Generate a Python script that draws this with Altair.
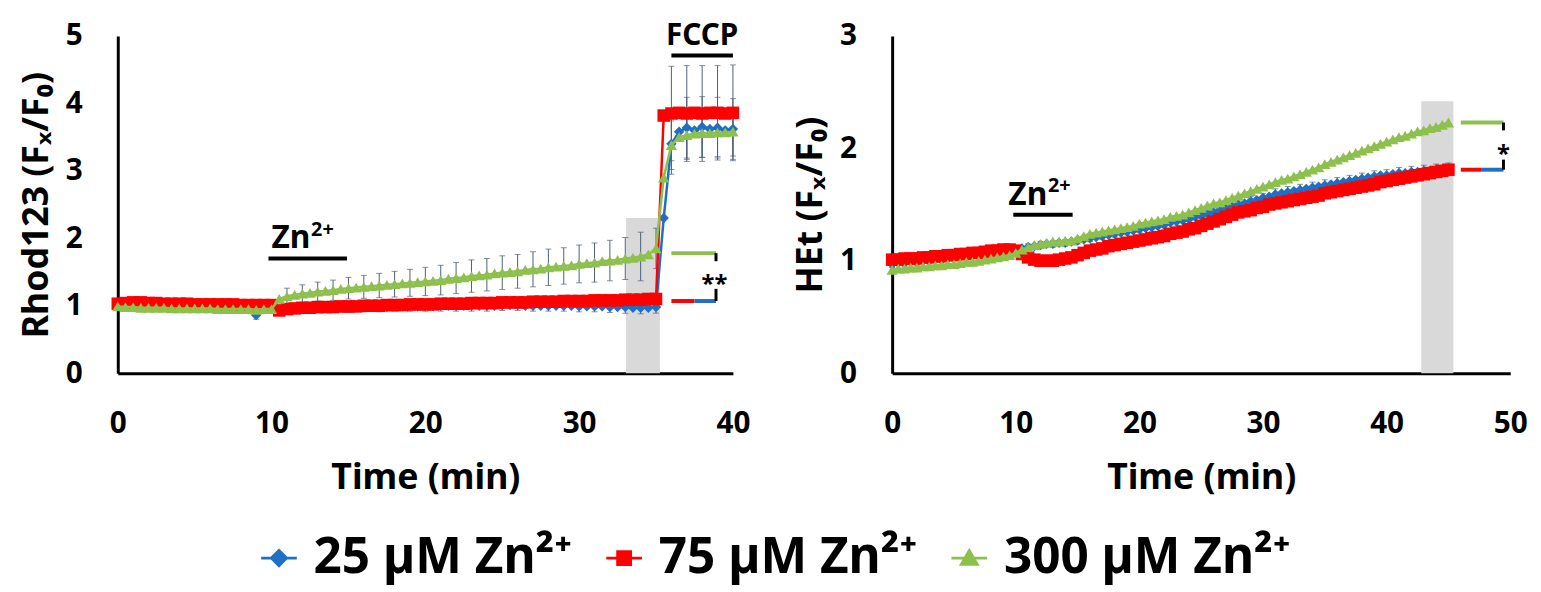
import altair as alt
import pandas as pd

SERIES = ["25 µM Zn²⁺", "75 µM Zn²⁺", "300 µM Zn²⁺"]
COLORS = ["#1f6fc4", "#ff0000", "#8dc04c"]
SHAPES = ["diamond", "square", "triangle-up"]
# legend symbols: marker with a short line through it
LEGEND_SHAPES = ["M-1,0H1M0,-0.42L0.42,0L0,0.42L-0.42,0Z",
                 "M-1,0H1M-0.36,-0.36H0.36V0.36H-0.36Z",
                 "M-1,0H1M0,-0.42L0.44,0.34L-0.44,0.34Z"]
SIZES = [110, 160, 130]
ERR_COLOR = "#4d5f7d"
FONT = "Noto Sans"

# ---------------- Left panel: Rhod123 ----------------
L_TIME = [i * 0.5 for i in range(81)]          # 0 ... 40 min
L_BLUE = [1.02, 1.04, 1.05, 1.03, 1.02, 1.01, 1.00, 1.00, 0.99, 0.99,
          0.98, 0.98, 0.99, 0.98, 0.97, 0.97, 0.96, 0.95, 0.86, 0.95, 0.97,
          0.94, 0.95, 0.95, 0.96, 0.96, 0.96, 0.97, 0.97, 0.97, 0.97,
          0.98, 0.98, 0.98, 0.98, 0.98, 0.99, 0.99, 0.99, 0.99, 0.99,
          0.99, 1.00, 1.00, 1.00, 1.00, 1.00, 1.00, 1.00, 1.00, 1.01,
          1.01, 1.01, 1.00, 1.00, 1.00, 1.00, 1.00, 1.00, 1.00, 0.99,
          0.99, 0.99, 0.99, 0.98, 0.98, 0.98, 0.97, 0.97, 0.97, 0.98,
          2.30, 3.40, 3.58, 3.64, 3.60, 3.65, 3.62, 3.64, 3.60, 3.62]
L_RED = [1.03, 1.04, 1.05, 1.05, 1.04, 1.04, 1.03, 1.03, 1.03, 1.03,
         1.02, 1.02, 1.02, 1.02, 1.02, 1.02, 1.01, 1.01, 1.01, 1.01, 1.01,
         0.93, 0.95, 0.96, 0.97, 0.97, 0.98, 0.98, 0.98, 0.99, 0.99,
         0.99, 1.00, 1.00, 1.00, 1.01, 1.01, 1.01, 1.02, 1.02, 1.02,
         1.02, 1.03, 1.03, 1.03, 1.03, 1.04, 1.04, 1.04, 1.04, 1.05,
         1.05, 1.05, 1.05, 1.06, 1.06, 1.06, 1.06, 1.07, 1.07, 1.07,
         1.07, 1.08, 1.08, 1.08, 1.08, 1.09, 1.09, 1.09, 1.10, 1.10,
         3.82, 3.85, 3.86, 3.85, 3.86, 3.85, 3.86, 3.86, 3.85, 3.86]
L_GREEN = [0.99, 0.98, 0.98, 0.97, 0.97, 0.97, 0.97, 0.96, 0.96, 0.96,
           0.96, 0.96, 0.96, 0.95, 0.95, 0.95, 0.95, 0.95, 0.94, 0.95, 0.95,
           1.10, 1.14, 1.16, 1.18, 1.19, 1.21, 1.22, 1.23, 1.25, 1.26,
           1.27, 1.28, 1.29, 1.30, 1.31, 1.32, 1.33, 1.34, 1.35, 1.36,
           1.37, 1.38, 1.40, 1.41, 1.42, 1.44, 1.45, 1.46, 1.48, 1.49,
           1.50, 1.51, 1.53, 1.54, 1.55, 1.57, 1.58, 1.59, 1.60, 1.62,
           1.63, 1.64, 1.66, 1.67, 1.68, 1.70, 1.71, 1.73, 1.76, 1.85,
           2.90, 3.38, 3.50, 3.53, 3.55, 3.56, 3.56, 3.57, 3.57, 3.58]
L_ERR_TIME = list(range(41))                    # error bars every minute
L_ERR_BLUE = [0.04, 0.04, 0.05, 0.05, 0.05, 0.05, 0.05, 0.05, 0.05, 0.06, 0.05,
              0.06, 0.06, 0.06, 0.07, 0.07, 0.07, 0.07, 0.07, 0.07, 0.07,
              0.08, 0.08, 0.08, 0.08, 0.08, 0.08, 0.08, 0.08, 0.08, 0.08,
              0.08, 0.08, 0.09, 0.09, 0.09,
              0.45, 0.45, 0.45, 0.45, 0.45]
L_ERR_RED = [0.03, 0.03, 0.03, 0.03, 0.03, 0.03, 0.03, 0.03, 0.03, 0.03, 0.03,
             0.04, 0.04, 0.04, 0.04, 0.04, 0.04, 0.04, 0.04, 0.04, 0.04,
             0.04, 0.04, 0.04, 0.04, 0.04, 0.04, 0.04, 0.04, 0.04, 0.04,
             0.04, 0.04, 0.04, 0.04, 0.04,
             0.70, 0.71, 0.71, 0.70, 0.71]
L_ERR_GREEN = [0.04, 0.04, 0.04, 0.05, 0.05, 0.05, 0.05, 0.05, 0.05, 0.05, 0.05,
               0.12, 0.13, 0.14, 0.15, 0.16, 0.17, 0.18, 0.19, 0.20, 0.21,
               0.22, 0.23, 0.24, 0.24, 0.25, 0.25, 0.26, 0.27, 0.27, 0.28,
               0.29, 0.30, 0.31, 0.36, 0.30,
               0.36, 0.36, 0.36, 0.36, 0.36]

# ---------------- Right panel: HEt ----------------
R_TIME = [i * 0.5 for i in range(91)]          # 0 ... 45 min
R_BLUE = [0.97, 0.98, 0.98, 0.99, 0.99, 1.00, 1.00, 1.01, 1.01, 1.02, 1.03,
          1.03, 1.04, 1.05, 1.05, 1.06, 1.07, 1.08, 1.09, 1.09, 1.10,
          1.11, 1.12, 1.13, 1.14, 1.15, 1.15, 1.16, 1.16, 1.17, 1.18,
          1.19, 1.20, 1.21, 1.22, 1.23, 1.24, 1.25, 1.26, 1.27, 1.28,
          1.29, 1.30, 1.31, 1.32, 1.34, 1.35, 1.36, 1.37, 1.39, 1.40,
          1.42, 1.43, 1.45, 1.46, 1.48, 1.50, 1.51, 1.53, 1.54, 1.56,
          1.57, 1.59, 1.60, 1.61, 1.62, 1.63, 1.64, 1.65, 1.66, 1.67,
          1.68, 1.69, 1.70, 1.71, 1.72, 1.73, 1.74, 1.75, 1.76, 1.76,
          1.77, 1.78, 1.78, 1.79, 1.79, 1.80, 1.80, 1.81, 1.81, 1.82]
R_RED = [1.01, 1.01, 1.02, 1.02, 1.02, 1.03, 1.03, 1.04, 1.04, 1.05, 1.05,
         1.06, 1.06, 1.07, 1.07, 1.08, 1.09, 1.09, 1.10, 1.10, 1.09,
         1.06, 1.03, 1.01, 1.00, 1.00, 1.00, 1.01, 1.02, 1.03, 1.05,
         1.07, 1.09, 1.10, 1.11, 1.13, 1.14, 1.15, 1.16, 1.17, 1.18,
         1.19, 1.20, 1.21, 1.22, 1.24, 1.25, 1.26, 1.28, 1.29, 1.31,
         1.33, 1.35, 1.37, 1.39, 1.41, 1.43, 1.44, 1.45, 1.47, 1.48,
         1.50, 1.51, 1.52, 1.53, 1.54, 1.55, 1.56, 1.57, 1.58, 1.60,
         1.61, 1.62, 1.63, 1.64, 1.65, 1.66, 1.67, 1.68, 1.70, 1.71,
         1.72, 1.73, 1.74, 1.75, 1.76, 1.77, 1.78, 1.79, 1.80, 1.81]
R_GREEN = [0.92, 0.93, 0.93, 0.94, 0.94, 0.95, 0.95, 0.96, 0.96, 0.97, 0.97,
           0.98, 0.99, 0.99, 1.00, 1.01, 1.02, 1.03, 1.04, 1.05, 1.07,
           1.10, 1.12, 1.14, 1.15, 1.16, 1.17, 1.17, 1.18, 1.18, 1.20,
           1.22, 1.24, 1.25, 1.26, 1.27, 1.28, 1.29, 1.30, 1.31, 1.33,
           1.34, 1.35, 1.36, 1.37, 1.39, 1.40, 1.41, 1.43, 1.45, 1.47,
           1.49, 1.51, 1.52, 1.54, 1.56, 1.58, 1.60, 1.62, 1.64, 1.66,
           1.68, 1.70, 1.72, 1.73, 1.75, 1.77, 1.79, 1.81, 1.83, 1.86,
           1.88, 1.90, 1.92, 1.94, 1.96, 1.98, 2.00, 2.02, 2.04, 2.06,
           2.08, 2.10, 2.11, 2.13, 2.15, 2.16, 2.18, 2.19, 2.21, 2.23]
R_ERR_TIME = list(range(46))
R_ERR_BLUE = [0.03, 0.03, 0.03, 0.03, 0.03, 0.03, 0.03, 0.03, 0.03, 0.03, 0.03,
              0.03, 0.03, 0.03, 0.03, 0.03, 0.03, 0.03, 0.03, 0.03, 0.03,
              0.04, 0.04, 0.04, 0.04, 0.04, 0.04, 0.04, 0.04, 0.04, 0.04,
              0.05, 0.05, 0.05, 0.05, 0.05, 0.05, 0.05, 0.05, 0.05, 0.05,
              0.05, 0.05, 0.05, 0.05, 0.05]

LEG = alt.Legend(title=None, orient="none", legendX=138, legendY=503,
                 direction="horizontal", labelFont=FONT, labelFontWeight="bold",
                 labelFontSize=50, labelColor="black", labelLimit=0,
                 symbolSize=1300, symbolStrokeWidth=3, labelOffset=10,
                 columnPadding=27)


def series_frame(times, vals_list):
    rows = []
    for name, vals in zip(SERIES, vals_list):
        for t, v in zip(times, vals):
            rows.append({"t": t, "v": v, "s": name})
    return pd.DataFrame(rows)


def error_frame(times, vals_list, err_times, errs_list):
    rows = []
    for name, vals, errs in zip(SERIES, vals_list, errs_list):
        if errs is None:
            continue
        lookup = dict(zip(times, vals))
        for t, e in zip(err_times, errs):
            v = lookup[float(t)]
            rows.append({"t": t, "lo": v - e, "hi": v + e, "s": name})
    return pd.DataFrame(rows)


def panel(times, vals_list, err_times, errs_list, band, xdom, ydom, width,
          height, ytitle, xticks, yticks, notes, with_legend):
    def X(f):
        return alt.X(f"{f}:Q", scale=alt.Scale(domain=xdom, nice=False, zero=False),
                     axis=alt.Axis(values=xticks, title="Time (min)", format="d"))

    def Y(f):
        return alt.Y(f"{f}:Q", scale=alt.Scale(domain=ydom, nice=False),
                     axis=alt.Axis(values=yticks, title=ytitle, format="d"))

    df = series_frame(times, vals_list)
    edf = error_frame(times, vals_list, err_times, errs_list)
    layers = []
    bdf = pd.DataFrame({"t": [band[0]], "t2": [band[1]], "v": [0], "v2": [band[2]]})
    layers.append(alt.Chart(bdf).mark_rect(color="#d9d9d9")
                  .encode(x=X("t"), x2="t2", y=Y("v"), y2="v2"))
    layers.append(alt.Chart(edf).mark_rule(color=ERR_COLOR, strokeWidth=1)
                  .encode(x=X("t"), y=Y("lo"), y2="hi"))
    for f in ["lo", "hi"]:
        layers.append(alt.Chart(edf).mark_tick(color=ERR_COLOR, orient="horizontal",
                                               size=6, thickness=1)
                      .encode(x=X("t"), y=Y(f)))
    for i, name in enumerate(SERIES):
        d = df[df.s == name]
        layers.append(alt.Chart(d).mark_line(color=COLORS[i], strokeWidth=2.5)
                      .encode(x=X("t"), y=Y("v")))
        layers.append(alt.Chart(d).mark_point(filled=True, size=SIZES[i], opacity=1,
                                              shape=SHAPES[i], color=COLORS[i])
                      .encode(x=X("t"), y=Y("v")))
    if with_legend:
        # legend-only layer (no rows drawn): marker + line symbols
        layers.append(
            alt.Chart(df).transform_filter("datum.v > 100")
            .mark_point(filled=True, opacity=1, strokeWidth=3)
            .encode(x=X("t"), y=Y("v"),
                    fill=alt.Fill("s:N", scale=alt.Scale(domain=SERIES, range=COLORS),
                                  legend=LEG),
                    stroke=alt.Stroke("s:N", scale=alt.Scale(domain=SERIES, range=COLORS),
                                      legend=LEG),
                    shape=alt.Shape("s:N", scale=alt.Scale(domain=SERIES,
                                                           range=LEGEND_SHAPES),
                                    legend=LEG)))
    # text annotations
    for (t, v, label, size, dx, dy, align, baseline) in notes["texts"]:
        tdf = pd.DataFrame({"t": [t], "v": [v], "label": [label]})
        layers.append(alt.Chart(tdf).mark_text(font=FONT, fontWeight="bold",
                                               fontSize=size, align=align,
                                               baseline=baseline, dx=dx, dy=dy,
                                               color="black")
                      .encode(x=X("t"), y=Y("v"), text="label:N"))
    # rules (underlines, bracket segments)
    for (t1, t2, v, color, w) in notes["hrules"]:
        rdf = pd.DataFrame({"t": [t1], "t2": [t2], "v": [v]})
        layers.append(alt.Chart(rdf).mark_rule(color=color, strokeWidth=w)
                      .encode(x=X("t"), x2="t2", y=Y("v")))
    for (t, v1, v2, color, w) in notes["vrules"]:
        rdf = pd.DataFrame({"t": [t], "v": [v1], "v2": [v2]})
        layers.append(alt.Chart(rdf).mark_rule(color=color, strokeWidth=w)
                      .encode(x=X("t"), y=Y("v"), y2="v2"))
    return alt.layer(*layers).properties(width=width, height=height)


left_notes = {
    "texts": [
        (10.0, 1.85, "Zn", 32, 0, 0, "left", "alphabetic"),
        (10.0, 1.85, "2+", 20, 40, -13, "left", "alphabetic"),
        (38.0, 4.86, "FCCP", 30, 0, 0, "center", "alphabetic"),
        (38.8, 1.39, "**", 24, 0, 6, "center", "middle"),
    ],
    "hrules": [
        (9.8, 14.9, 1.70, "black", 4),
        (36.0, 40.0, 4.71, "black", 4),
        (36.0, 38.9, 1.78, COLORS[2], 4),
        (36.0, 37.5, 1.07, COLORS[1], 4),
        (37.5, 38.9, 1.07, COLORS[0], 4),
    ],
    "vrules": [
        (38.9, 1.78, 1.66, "black", 3),
        (38.9, 1.25, 1.07, "black", 3),
    ],
}
right_notes = {
    "texts": [
        (9.4, 1.50, "Zn", 32, 0, 0, "left", "alphabetic"),
        (9.4, 1.50, "2+", 20, 40, -13, "left", "alphabetic"),
        (49.45, 1.99, "*", 24, 0, 6, "center", "middle"),
    ],
    "hrules": [
        (9.8, 14.6, 1.41, "black", 4),
        (46.0, 49.45, 2.23, COLORS[2], 4),
        (46.0, 47.7, 1.81, COLORS[1], 4),
        (47.7, 49.45, 1.81, COLORS[0], 4),
    ],
    "vrules": [
        (49.45, 2.23, 2.16, "black", 3),
        (49.45, 1.90, 1.81, "black", 3),
    ],
}

left = panel(L_TIME, [L_BLUE, L_RED, L_GREEN], L_ERR_TIME,
             [L_ERR_BLUE, L_ERR_RED, L_ERR_GREEN], (33.05, 35.25, 2.3),
             [0, 40], [0, 5], 622, 341, "Rhod123 (Fₓ/F₀)",
             [0, 10, 20, 30, 40], [0, 1, 2, 3, 4, 5], left_notes, True)
right = panel(R_TIME, [R_BLUE, R_RED, R_GREEN], R_ERR_TIME,
              [R_ERR_BLUE, None, None], (42.8, 45.4, 2.42),
              [0, 50], [0, 3], 625, 341, "HEt (Fₓ/F₀)",
              [0, 10, 20, 30, 40, 50], [0, 1, 2, 3], right_notes, False)

chart = (
    alt.hconcat(left, right, spacing=42)
    .properties(padding={"left": 10, "top": 10, "right": 5, "bottom": 5})
    .configure_view(stroke=None)
    .configure_axis(domainColor="black", domainWidth=3, ticks=False, grid=False,
                    labelFlush=False,
                    labelFont=FONT, labelFontWeight="bold", labelFontSize=30,
                    labelColor="black", titleFont=FONT, titleFontWeight="bold",
                    titleFontSize=36, titleColor="black")
    .configure_axisX(labelPadding=36, titlePadding=23)
    .configure_axisY(labelPadding=36, titlePadding=10)
)

chart.save("out.html", embed_options={"renderer": "svg", "actions": False})
